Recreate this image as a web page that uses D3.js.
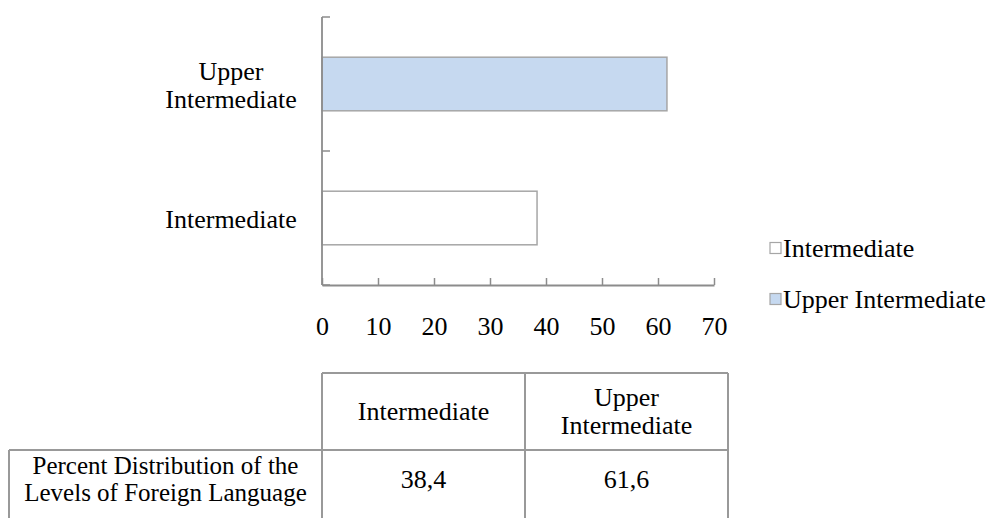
<!DOCTYPE html>
<html>
<head>
<meta charset="utf-8">
<script src="https://cdn.jsdelivr.net/npm/d3@7"></script>
<style>
  html, body { margin: 0; padding: 0; background: #fff; }
</style>
</head>
<body>
<svg id="chart" width="1000" height="518" font-family="'Liberation Serif', 'Times New Roman', Times, serif"></svg>
<script>
// Levels of foreign language, percent distribution
const categories = ["Intermediate", "Upper Intermediate"];
const values = [38.4, 61.6];
const valueLabels = ["38,4", "61,6"];
const fills = ["#ffffff", "#c6d9f0"];
const xTicks = [0, 10, 20, 30, 40, 50, 60, 70];
const rowLabel = ["Percent Distribution of the", "Levels of Foreign Language"];

const svg = d3.select("#chart");
const serif = "'Liberation Serif', 'Times New Roman', Times, serif";
const axisColor = "#8c8c8c";
const barStroke = "#a6a6a6";
const fontSize = 26;

// Scales: value axis along x, categories stacked bottom-up on y
const x = d3.scaleLinear().domain([0, 70]).range([322, 714]);
const yOrder = categories.slice().reverse(); // top: Upper Intermediate
const y = d3.scaleBand().domain(yOrder).range([17, 285])
  .paddingInner(0.6).paddingOuter(0.3);

// Bars
svg.append("g").selectAll("rect")
  .data(categories.map((c, i) => ({ c, v: values[i], f: fills[i] })))
  .join("rect")
  .attr("x", x(0))
  .attr("y", d => y(d.c))
  .attr("width", d => x(d.v) - x(0))
  .attr("height", y.bandwidth())
  .attr("fill", d => d.f)
  .attr("stroke", barStroke)
  .attr("stroke-width", 1.5);

// Bottom axis: ticks point up into the plot, labels well below
const xAxis = d3.axisBottom(x).tickValues(xTicks).tickFormat(d3.format("d"))
  .tickSizeInner(-7).tickSizeOuter(0).tickPadding(32);
const gx = svg.append("g").attr("transform", `translate(0,${y.range()[1]})`).call(xAxis);
gx.attr("font-family", serif).attr("font-size", fontSize);
gx.select(".domain").attr("stroke", axisColor).attr("stroke-width", 1.8);
gx.selectAll(".tick line").attr("stroke", axisColor).attr("stroke-width", 1.5);
gx.selectAll(".tick text").attr("fill", "#000");

// Left axis: line plus ticks at category boundaries
const [y0, y1] = y.range();
const step = y.step();
const bounds = d3.range(categories.length + 1).map(i => y0 + i * step);
svg.append("line")
  .attr("x1", x(0)).attr("x2", x(0)).attr("y1", y0).attr("y2", y1)
  .attr("stroke", axisColor).attr("stroke-width", 1.8);
svg.append("g").selectAll("line").data(bounds).join("line")
  .attr("x1", x(0)).attr("x2", x(0) + 8)
  .attr("y1", d => d).attr("y2", d => d)
  .attr("stroke", axisColor).attr("stroke-width", 1.5);

// Category labels (multi-line, centred block, right edge near axis)
const catLines = { "Intermediate": ["Intermediate"], "Upper Intermediate": ["Upper", "Intermediate"] };
const lineH = 28;
yOrder.forEach(c => {
  const lines = catLines[c];
  const cy = y(c) + y.bandwidth() / 2 + 1;
  const t = svg.append("text")
    .attr("font-family", serif)
    .attr("font-size", fontSize)
    .attr("text-anchor", "middle");
  const widest = 132;
  lines.forEach((ln, i) => {
    t.append("tspan")
      .attr("x", 297 - widest / 2)
      .attr("y", cy + (i - (lines.length - 1) / 2) * lineH)
      .attr("dy", "0.35em")
      .text(ln);
  });
});

// Legend
const legend = svg.append("g");
categories.forEach((c, i) => {
  const ly = 248 + i * 51;
  legend.append("rect")
    .attr("x", 770).attr("y", ly - 5.5).attr("width", 11).attr("height", 11)
    .attr("fill", fills[i]).attr("stroke", barStroke).attr("stroke-width", 1.2);
  legend.append("text")
    .attr("font-family", serif)
    .attr("x", 783).attr("y", ly).attr("dy", "0.33em")
    .attr("font-size", fontSize).text(c);
});

// Data table under the chart
const tableColor = "#999999";
const colX = [9, 322, 525, 728];
const rowY = [373, 450, 560];
const tg = svg.append("g").attr("stroke", tableColor).attr("stroke-width", 2).attr("fill", "none");
// header row (no row-label cell)
tg.append("line").attr("x1", colX[1]).attr("x2", colX[3]).attr("y1", rowY[0]).attr("y2", rowY[0]);
// line between header and body
tg.append("line").attr("x1", colX[0]).attr("x2", colX[3]).attr("y1", rowY[1]).attr("y2", rowY[1]);
// verticals
tg.append("line").attr("x1", colX[0]).attr("x2", colX[0]).attr("y1", rowY[1]).attr("y2", rowY[2]);
[colX[1], colX[2], colX[3]].forEach(cx => {
  tg.append("line").attr("x1", cx).attr("x2", cx).attr("y1", rowY[0]).attr("y2", rowY[2]);
});

const headerLines = { "Intermediate": ["Intermediate"], "Upper Intermediate": ["Upper", "Intermediate"] };
categories.forEach((c, i) => {
  const cx = (colX[i + 1] + colX[i + 2]) / 2;
  const lines = headerLines[c];
  const t = svg.append("text").attr("font-family", serif)
    .attr("font-size", fontSize).attr("text-anchor", "middle");
  lines.forEach((ln, k) => {
    t.append("tspan").attr("x", cx)
      .attr("y", 411 + (k - (lines.length - 1) / 2) * 28)
      .attr("dy", "0.35em").text(ln);
  });
  svg.append("text").attr("font-family", serif)
    .attr("font-size", fontSize).attr("text-anchor", "middle")
    .attr("x", cx).attr("y", 479).attr("dy", "0.35em").text(valueLabels[i]);
});

const rl = svg.append("text").attr("font-family", serif)
  .attr("font-size", 25).attr("text-anchor", "middle");
rowLabel.forEach((ln, k) => {
  rl.append("tspan").attr("x", (colX[0] + colX[1]) / 2)
    .attr("y", 465 + k * 27).attr("dy", "0.35em").text(ln);
});
</script>
</body>
</html>
